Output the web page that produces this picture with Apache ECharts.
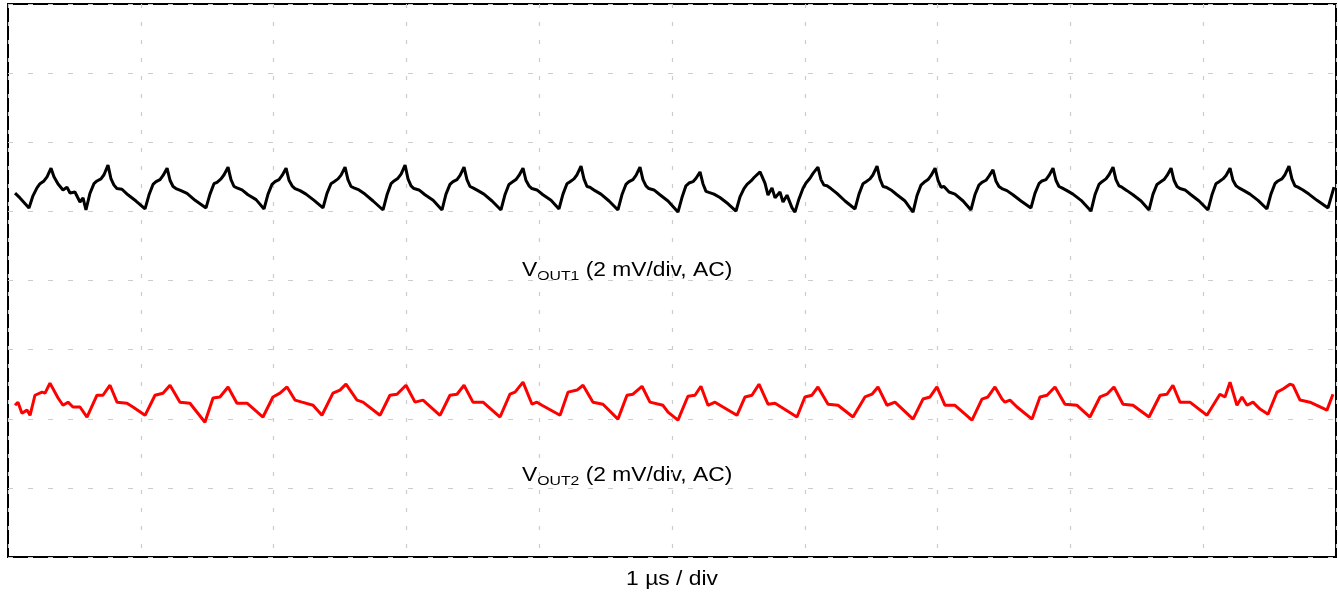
<!DOCTYPE html>
<html>
<head>
<meta charset="utf-8">
<script src="https://cdn.jsdelivr.net/npm/echarts@6/dist/echarts.min.js"></script>
<style>
  html, body { margin: 0; padding: 0; background: #fff; }
  #main { width: 1338px; height: 594px; }
</style>
</head>
<body>
<div id="main"></div>
<script>
// time in ns, ripple in mV (2 mV/div, 8 div tall screen)
var vout1 = [
  [53,2.53],[90,2.39],
  [158,2.10],[188,2.45],[218,2.68],[241,2.80],[271,2.88],[294,3.00],[324,3.25],[346,3.00],[377,2.79],[414,2.62],[444,2.70],[467,2.53],[504,2.56],[542,2.27],[565,2.39],
  [587,2.04],[617,2.52],[647,2.80],[670,2.88],[700,2.94],[723,3.06],[753,3.34],[775,2.95],[798,2.76],[820,2.66],[858,2.64],[903,2.48],[964,2.30],
  [1032,2.07],[1062,2.48],[1092,2.78],[1115,2.86],[1145,2.92],[1168,3.04],[1198,3.25],[1220,2.90],[1243,2.72],[1265,2.66],[1303,2.60],[1348,2.52],[1409,2.32],
  [1491,2.10],[1521,2.50],[1551,2.80],[1574,2.84],[1604,2.94],[1627,3.06],[1657,3.28],[1679,2.92],[1702,2.72],[1724,2.68],[1762,2.62],[1807,2.48],[1868,2.34],
  [1928,2.07],[1958,2.50],[1988,2.78],[2011,2.86],[2041,2.92],[2064,3.04],[2094,3.25],[2116,2.90],[2139,2.74],[2161,2.66],[2199,2.60],[2244,2.50],[2305,2.32],
  [2372,2.10],[2402,2.52],[2432,2.80],[2455,2.86],[2485,2.94],[2508,3.05],[2538,3.28],[2560,2.92],[2583,2.72],[2605,2.68],[2643,2.62],[2688,2.50],[2749,2.30],
  [2824,2.04],[2854,2.48],[2884,2.80],[2907,2.88],[2937,2.96],[2960,3.08],[2990,3.34],[3012,2.94],[3035,2.74],[3057,2.66],[3095,2.62],[3140,2.48],[3201,2.32],
  [3268,2.04],[3298,2.50],[3328,2.78],[3351,2.86],[3381,2.92],[3404,3.04],[3434,3.28],[3456,2.92],[3479,2.72],[3501,2.68],[3539,2.60],[3584,2.50],[3645,2.30],
  [3712,2.04],[3742,2.48],[3772,2.78],[3795,2.84],[3825,2.92],[3848,3.04],[3878,3.25],[3900,2.90],[3923,2.74],[3945,2.66],[3983,2.62],[4028,2.48],[4089,2.32],
  [4149,2.07],[4179,2.50],[4209,2.80],[4232,2.86],[4262,2.94],[4285,3.06],[4315,3.31],[4337,2.94],[4360,2.72],[4382,2.70],[4420,2.60],[4465,2.50],[4526,2.30],
  [4593,2.04],[4623,2.48],[4653,2.78],[4676,2.86],[4706,2.92],[4729,3.04],[4759,3.28],[4781,2.92],[4804,2.74],[4826,2.66],[4864,2.62],[4909,2.48],[4970,2.30],
  [5045,1.98],[5075,2.40],[5105,2.74],[5128,2.82],[5158,2.86],[5181,2.96],[5211,3.14],[5233,2.80],[5256,2.58],[5278,2.55],[5316,2.50],[5361,2.40],[5422,2.22],
  [5482,2.01],[5512,2.42],[5542,2.66],[5565,2.78],[5595,2.88],[5618,2.98],[5663,3.14],[5700,2.82],[5723,2.47],[5753,2.68],[5776,2.39],[5813,2.56],[5836,2.27],[5866,2.47],[5904,2.10],
  [5926,1.98],[5956,2.36],[5986,2.66],[6009,2.82],[6039,2.96],[6062,3.10],[6099,3.28],[6122,2.92],[6144,2.76],[6167,2.74],[6197,2.66],[6242,2.52],[6303,2.30],
  [6378,2.07],[6408,2.50],[6438,2.80],[6461,2.86],[6491,2.94],[6514,3.06],[6544,3.31],[6566,2.94],[6589,2.72],[6611,2.70],[6649,2.62],[6694,2.48],[6755,2.30],
  [6815,1.98],[6845,2.46],[6875,2.76],[6898,2.84],[6928,2.92],[6951,3.04],[6981,3.25],[7003,2.90],[7026,2.70],[7048,2.72],[7086,2.56],[7131,2.50],[7192,2.30],
  [7251,2.04],[7281,2.48],[7311,2.76],[7334,2.84],[7364,2.90],[7387,3.02],[7417,3.20],[7439,2.88],[7462,2.72],[7484,2.66],[7522,2.60],[7567,2.48],[7628,2.30],
  [7703,2.10],[7733,2.52],[7763,2.80],[7786,2.88],[7816,2.92],[7839,3.04],[7869,3.25],[7891,2.90],[7914,2.72],[7936,2.68],[7974,2.60],[8019,2.50],[8080,2.32],
  [8155,2.01],[8185,2.48],[8215,2.78],[8238,2.86],[8268,2.94],[8291,3.06],[8321,3.28],[8343,2.92],[8366,2.74],[8388,2.70],[8426,2.60],[8471,2.48],[8532,2.30],
  [8592,2.04],[8622,2.50],[8652,2.78],[8675,2.84],[8705,2.92],[8728,3.04],[8758,3.25],[8780,2.90],[8803,2.72],[8825,2.66],[8863,2.62],[8908,2.48],[8969,2.30],
  [9036,2.04],[9066,2.48],[9096,2.80],[9119,2.86],[9149,2.94],[9172,3.04],[9202,3.25],[9224,2.90],[9247,2.74],[9269,2.68],[9307,2.60],[9352,2.50],[9413,2.32],
  [9480,2.07],[9510,2.50],[9540,2.80],[9563,2.88],[9593,2.94],[9616,3.06],[9646,3.31],[9668,2.94],[9691,2.74],[9713,2.70],[9751,2.62],[9796,2.50],[9857,2.32],
  [9940,2.10],[9985,2.70]
];

var vout2 = [
  [53,-3.61],[75,-3.52],[105,-3.84],[143,-3.75],[166,-3.90],[203,-3.32],[256,-3.23],[279,-3.26],[316,-2.97],[377,-3.40],[414,-3.61],[452,-3.52],[489,-3.66],[542,-3.66],[595,-3.95],
  [670,-3.32],[715,-3.32],[768,-3.03],[821,-3.52],[896,-3.55],[941,-3.66],[1032,-3.90],
  [1107,-3.32],[1167,-3.26],[1220,-3.03],[1295,-3.52],[1370,-3.55],[1483,-4.10],
  [1544,-3.40],[1596,-3.37],[1657,-3.08],[1724,-3.55],[1800,-3.55],[1920,-3.95],
  [1995,-3.37],[2048,-3.26],[2101,-3.08],[2161,-3.46],[2214,-3.52],[2297,-3.61],[2364,-3.90],
  [2447,-3.26],[2500,-3.17],[2545,-3.00],[2628,-3.46],[2673,-3.52],[2801,-3.90],
  [2876,-3.32],[2929,-3.29],[2997,-3.03],[3065,-3.52],[3125,-3.46],[3253,-3.90],
  [3328,-3.32],[3381,-3.29],[3434,-3.03],[3501,-3.52],[3577,-3.52],[3705,-3.95],
  [3780,-3.29],[3818,-3.23],[3878,-2.94],[3946,-3.58],[3983,-3.52],[4021,-3.61],[4157,-3.90],
  [4217,-3.23],[4285,-3.17],[4330,-3.03],[4405,-3.52],[4480,-3.58],[4593,-4.01],
  [4661,-3.32],[4706,-3.29],[4774,-3.06],[4834,-3.52],[4932,-3.61],[4970,-3.81],[5045,-4.04],
  [5120,-3.35],[5173,-3.32],[5218,-3.06],[5271,-3.61],[5324,-3.52],[5384,-3.66],[5489,-3.90],
  [5550,-3.37],[5602,-3.32],[5655,-3.00],[5723,-3.58],[5776,-3.55],[5941,-3.95],
  [6001,-3.37],[6054,-3.32],[6099,-3.08],[6175,-3.58],[6250,-3.61],[6363,-3.95],
  [6453,-3.37],[6506,-3.29],[6551,-3.08],[6619,-3.61],[6679,-3.52],[6815,-4.01],
  [6890,-3.43],[6943,-3.37],[6995,-3.08],[7056,-3.61],[7131,-3.61],[7259,-4.04],
  [7334,-3.43],[7379,-3.37],[7432,-3.08],[7485,-3.43],[7507,-3.52],[7545,-3.46],[7598,-3.66],[7711,-4.01],
  [7771,-3.37],[7824,-3.32],[7884,-3.08],[7959,-3.58],[8050,-3.61],[8147,-3.95],
  [8223,-3.37],[8275,-3.29],[8328,-3.08],[8396,-3.58],[8471,-3.61],[8592,-3.95],
  [8675,-3.32],[8727,-3.29],[8772,-3.03],[8825,-3.52],[8900,-3.52],[9028,-3.90],
  [9126,-3.29],[9164,-3.37],[9202,-2.94],[9254,-3.61],[9292,-3.37],[9330,-3.61],[9375,-3.52],[9428,-3.72],[9488,-3.87],
  [9556,-3.23],[9601,-3.14],[9653,-3.00],[9676,-3.03],[9729,-3.46],[9804,-3.52],[9932,-3.75],[9977,-3.29]
];

var timeRange = [0, 10000];   // 10 div x 1 us
var voltRange = [-8, 8];      // 8 div x 2 mV
var channelLabels = [
  { name: 'OUT1', text: ' (2 mV/div, AC)' },
  { name: 'OUT2', text: ' (2 mV/div, AC)' }
];
var xName = '1 \u00b5s / div';

var font = "'Liberation Sans', Arial, sans-serif";

var chart = echarts.init(document.getElementById('main'));

// the original text is a bit wide, stretch it
var stretch = 1.17;

var labelText = function (ch, x, y) {
    return {
        type: 'text',
        x: x,
        y: y,
        scaleX: stretch,
        style: {
            text: '{v|V}{s|' + ch.name + '}{v|' + ch.text + '}',
            verticalAlign: 'middle',
            rich: {
                v: { fontSize: 19.5, fontFamily: font, fill: '#000' },
                s: { fontSize: 13.5, fontFamily: font, fill: '#000', verticalAlign: 'bottom', padding: [0, 0, -2, 0] }
            }
        }
    };
};

var option = {
    backgroundColor: '#fff',
    animation: false,
    grid: {
        left: 8,
        right: 2,
        top: 4,
        bottom: 37,
        show: true,
        borderColor: '#000',
        borderWidth: 2
    },
    xAxis: {
        type: 'value',
        min: timeRange[0],
        max: timeRange[1],
        interval: 1000,
        axisLine: { show: false },
        axisTick: { show: false },
        axisLabel: { show: false },
        splitLine: { show: true, lineStyle: { color: '#cccccc', width: 1.2, type: [4, 14] } }
    },
    yAxis: {
        type: 'value',
        min: voltRange[0],
        max: voltRange[1],
        interval: 2,
        axisLine: { show: false },
        axisTick: { show: false },
        axisLabel: { show: false },
        splitLine: { show: true, lineStyle: { color: '#cccccc', width: 1.2, type: [5, 15] } }
    },
    series: [
        {
            name: 'VOUT1',
            type: 'line',
            data: vout1,
            showSymbol: false,
            lineStyle: { color: '#000', width: 3 },
            z: 3
        },
        {
            name: 'VOUT2',
            type: 'line',
            data: vout2,
            showSymbol: false,
            lineStyle: { color: '#ff0000', width: 3 },
            z: 3
        }
    ],
    graphic: [
        labelText(channelLabels[0], 522, 271),
        labelText(channelLabels[1], 522, 476),
        {
            type: 'text',
            x: 672,
            y: 580,
            scaleX: stretch,
            style: {
                text: xName,
                fontSize: 19.5,
                fontFamily: font,
                fill: '#000',
                align: 'center',
                verticalAlign: 'middle'
            }
        }
    ]
};

chart.setOption(option);
</script>
</body>
</html>
